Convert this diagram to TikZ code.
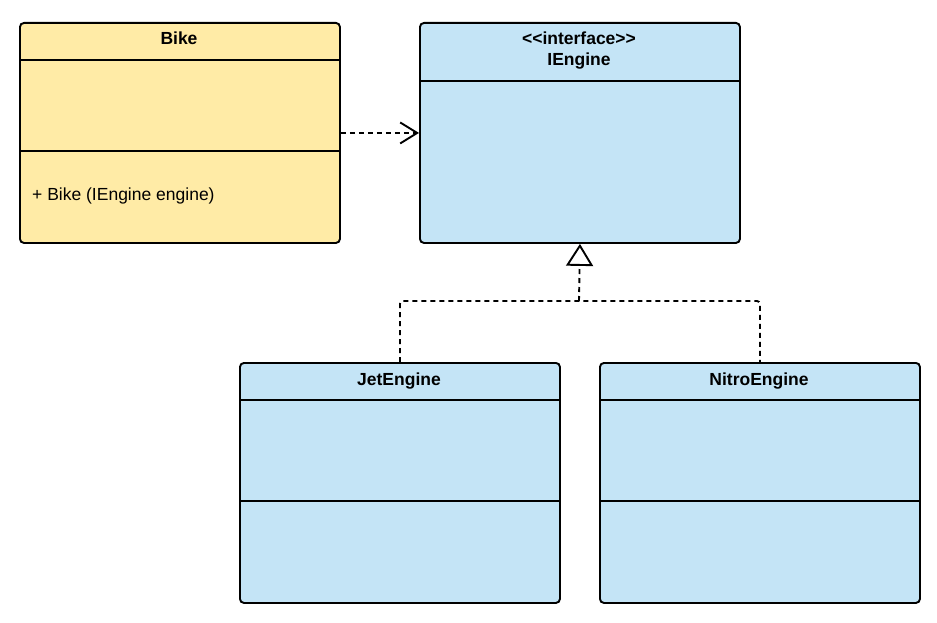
\documentclass[tikz,border=0pt]{standalone}
\usepackage{fontspec}
\setmainfont{Liberation Sans}
\usetikzlibrary{arrows.meta}
\definecolor{yel}{HTML}{FFEBA6}
\definecolor{blu}{HTML}{C4E4F6}
\begin{document}
\begin{tikzpicture}[x=1pt,y=-1pt,
  box/.style={draw=black, line width=1.9pt, rounded corners=4pt, minimum width=320pt, anchor=north west, inner sep=0pt},
  divider/.style={line width=1.9pt},
  title/.style={anchor=base, font=\fontsize{17.5}{21}\selectfont\bfseries, inner sep=0pt},
  member/.style={anchor=base west, font=\fontsize{17.5}{21}\selectfont, inner sep=0pt},
  conn/.style={line width=1.9pt, dash pattern=on 5pt off 4pt}
]
\useasboundingbox (0,0) rectangle (937,623);
% Bike
\node[box, fill=yel, minimum height=220pt] (bike) at (19,22) {};
\draw[divider] (bike.west |- 0,60) -- (bike.east |- 0,60);
\draw[divider] (bike.west |- 0,151) -- (bike.east |- 0,151);
\node[title] (biket) at (179,44.5) {Bike};
\node[member] (bikem) at (32,200) {+ Bike (IEngine engine)};
% IEngine
\node[box, fill=blu, minimum height=220pt] (iengine) at (419,22) {};
\draw[divider] (iengine.west |- 0,81) -- (iengine.east |- 0,81);
\node[title] (ienginest) at (579,44.5) {{<}{<}interface{>}{>}};
\node[title] (ienginet) at (579,66) {IEngine};
% JetEngine
\node[box, fill=blu, minimum height=240pt] (jet) at (239,362) {};
\draw[divider] (jet.west |- 0,400) -- (jet.east |- 0,400);
\draw[divider] (jet.west |- 0,501) -- (jet.east |- 0,501);
\node[title] (jett) at (399,385) {JetEngine};
% NitroEngine
\node[box, fill=blu, minimum height=240pt] (nitro) at (599,362) {};
\draw[divider] (nitro.west |- 0,400) -- (nitro.east |- 0,400);
\draw[divider] (nitro.west |- 0,501) -- (nitro.east |- 0,501);
\node[title] (nitrot) at (759,385) {NitroEngine};
% dependency
\draw[conn, -{Straight Barb[length=17pt, width=21pt, line width=1.9pt]}] (bike) -- (iengine);
% realization
\coordinate (j) at (579,301);
\draw[conn, rounded corners=3pt] (jet.north) |- (j) -| (nitro.north);
\draw[conn, -{Triangle[open, fill=white, length=22pt, width=27pt, line width=1.9pt]}] (j) -- (iengine.south);
\end{tikzpicture}
\end{document}
